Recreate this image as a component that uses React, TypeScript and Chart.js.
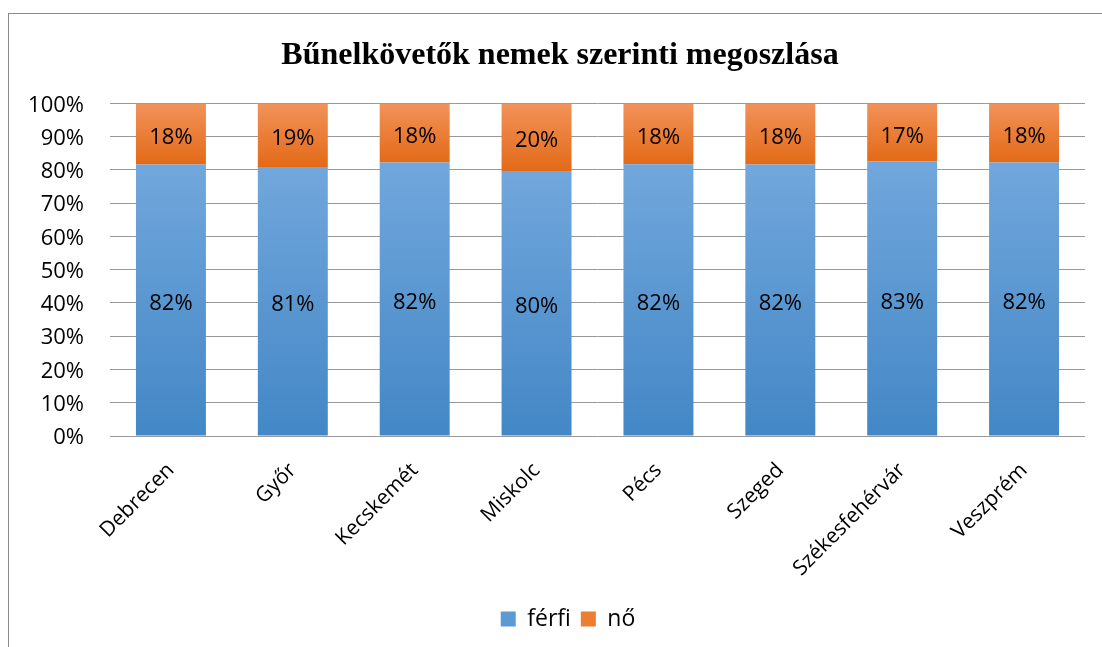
import React, { useEffect, useRef } from "react";
import { Chart, registerables } from "chart.js";
Chart.register(...registerables);

const categories = ["Debrecen", "Győr", "Kecskemét", "Miskolc", "Pécs", "Szeged", "Székesfehérvár", "Veszprém"];
const ferfi = [81.6, 80.9, 82.2, 79.7, 81.7, 81.6, 82.6, 82.2];
const no = [18.4, 19.1, 17.8, 20.3, 18.3, 18.4, 17.4, 17.8];
const seriesNames = ["férfi", "nő"];
const yTickStep = 10;

const FONT = '"Open Sans", "Noto Sans", sans-serif';

function makeGrad(ctx: any, which: number) {
  const chart = ctx.chart;
  const y = chart.scales && chart.scales.y;
  const solid = which === 0 ? "#5b9bd5" : "#ed7d31";
  if (!y || !chart.chartArea || ctx.dataIndex === undefined) return solid;
  const i = ctx.dataIndex;
  let top: number, bottom: number;
  if (which === 0) {
    top = y.getPixelForValue(ferfi[i]);
    bottom = y.getPixelForValue(0);
  } else {
    top = y.getPixelForValue(ferfi[i] + no[i]);
    bottom = y.getPixelForValue(ferfi[i]);
  }
  if (!isFinite(top) || !isFinite(bottom) || top === bottom) return solid;
  const g = chart.ctx.createLinearGradient(0, top, 0, bottom);
  if (which === 0) {
    g.addColorStop(0, "#71a7dc");
    g.addColorStop(1, "#4387c6");
  } else {
    g.addColorStop(0, "#f2925a");
    g.addColorStop(1, "#e36a17");
  }
  return g;
}

const valueLabels = {
  id: "valueLabels",
  afterDatasetsDraw(chart: any) {
    const c = chart.ctx;
    c.save();
    c.font = `22px ${FONT}`;
    c.fillStyle = "#000";
    c.textAlign = "center";
    c.textBaseline = "middle";
    chart.data.datasets.forEach((ds: any, di: number) => {
      const meta = chart.getDatasetMeta(di);
      meta.data.forEach((bar: any, i: number) => {
        const p = bar.getProps(["x", "y", "base"], true);
        c.fillText(Math.round(ds.data[i]) + "%", p.x, (p.y + p.base) / 2 + 4);
      });
    });
    c.restore();
  },
};

// nudge title and legend horizontally (layout only)
const nudgeBlocks = {
  id: "nudgeBlocks",
  afterLayout(chart: any) {
    const t = chart.titleBlock;
    if (t) {
      t.left += 5;
      t.right += 5;
    }
    const l = chart.legend;
    if (l) {
      l.left += 13;
      l.right += 13;
    }
  },
};

export default function App() {
  const ref = useRef<HTMLCanvasElement | null>(null);
  useEffect(() => {
    if (!ref.current) return;
    const chart = new Chart(ref.current, {
      type: "bar",
      data: {
        labels: categories,
        datasets: [
          {
            label: seriesNames[0],
            data: ferfi,
            backgroundColor: (ctx: any) => makeGrad(ctx, 0),
            borderWidth: 0,
            barPercentage: 0.574,
            categoryPercentage: 1,
          },
          {
            label: seriesNames[1],
            data: no,
            backgroundColor: (ctx: any) => makeGrad(ctx, 1),
            borderWidth: 0,
            barPercentage: 0.574,
            categoryPercentage: 1,
          },
        ],
      },
      options: {
        animation: false,
        responsive: false,
        maintainAspectRatio: false,
        layout: { padding: { left: 16, right: 17, top: 0, bottom: 6.5 } },
        plugins: {
          title: {
            display: true,
            text: "Bűnelkövetők nemek szerinti megoszlása",
            font: { family: '"Liberation Serif", "Times New Roman", serif', size: 32, weight: "bold" },
            color: "#000",
            padding: { top: 23, bottom: 28 },
          },
          legend: {
            position: "bottom",
            labels: {
              font: { family: FONT, size: 23 },
              color: "#000",
              boxWidth: 15,
              boxHeight: 15,
              padding: 10,
              generateLabels: () => [
                { text: seriesNames[0], fillStyle: "#5b9bd5", strokeStyle: "#5b9bd5", lineWidth: 0, datasetIndex: 0, hidden: false },
                { text: seriesNames[1], fillStyle: "#ed7d31", strokeStyle: "#ed7d31", lineWidth: 0, datasetIndex: 1, hidden: false },
              ],
            },
          },
          tooltip: { enabled: false },
        },
        scales: {
          x: {
            stacked: true,
            grid: { display: false },
            border: { display: false },
            ticks: {
              font: { family: FONT, size: 21 },
              color: "#000",
              autoSkip: false,
              maxRotation: 45,
              minRotation: 45,
              padding: 14,
            },
            afterFit: (s: any) => {
              s.height = 161.5;
            },
          },
          y: {
            stacked: true,
            min: 0,
            max: 100,
            grid: { color: "#999999", lineWidth: 1, drawTicks: false },
            border: { display: false },
            ticks: {
              stepSize: yTickStep,
              font: { family: FONT, size: 22 },
              color: "#000",
              padding: 26,
              labelOffset: 2,
              callback: (v: any) => v + "%",
            },
            afterFit: (s: any) => {
              s.width = 85;
            },
          },
        },
      },
      plugins: [valueLabels, nudgeBlocks],
    });
    return () => chart.destroy();
  }, []);
  return (
    <div
      style={{
        position: "fixed",
        left: 8,
        top: 13,
        width: 1094,
        height: 634,
        borderLeft: "1px solid #8a8a8a",
        borderTop: "1px solid #8a8a8a",
        background: "#fff",
      }}
    >
      <canvas ref={ref} width={1093} height={633} style={{ display: "block", width: 1093, height: 633 }} />
    </div>
  );
}
